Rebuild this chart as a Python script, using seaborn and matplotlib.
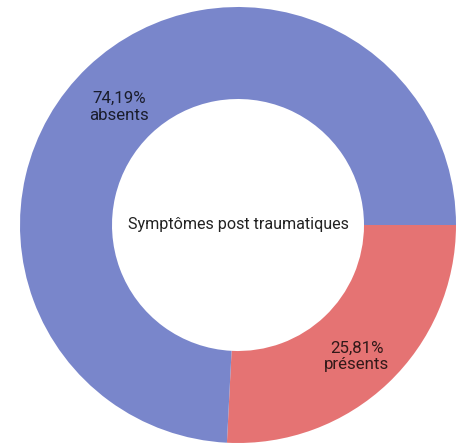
import matplotlib
matplotlib.use('Agg')
import matplotlib.pyplot as plt
import seaborn as sns

# data
categories = ['présents', 'absents']
shares = [25.81, 74.19]
colors = ['#E57373', '#7986CB']
center_title = 'Symptômes post traumatiques'

sns.set_theme(style='white')
plt.rcParams['font.family'] = ['Roboto', 'DejaVu Sans']

fig = plt.figure(figsize=(4.60, 4.43), dpi=100)
ax = fig.add_axes([20 / 460, 0, 436 / 460, 436 / 443])

labels = [f'{v:.2f}%'.replace('.', ',') + f'\n{c}' for c, v in zip(categories, shares)]
wedges, texts = ax.pie(
    shares, colors=colors, startangle=0, counterclock=False,
    labels=labels, labeldistance=0.79,
    wedgeprops=dict(width=1 - 126 / 218, edgecolor='none'),
    textprops=dict(fontsize=12.2, color='black', alpha=0.78, linespacing=1.15),
)
for t in texts:
    t.set_horizontalalignment('center')
    t.set_verticalalignment('center')
    x, y = t.get_position()
    t.set_position((x, y - 0.03))

ax.text(0, 0, center_title, ha='center', va='center', fontsize=11.6, color='#222222')
ax.set_xlim(-1, 1)
ax.set_ylim(-1, 1)
ax.set_aspect('equal')
ax.axis('off')

fig.savefig('out.png', dpi=100)
